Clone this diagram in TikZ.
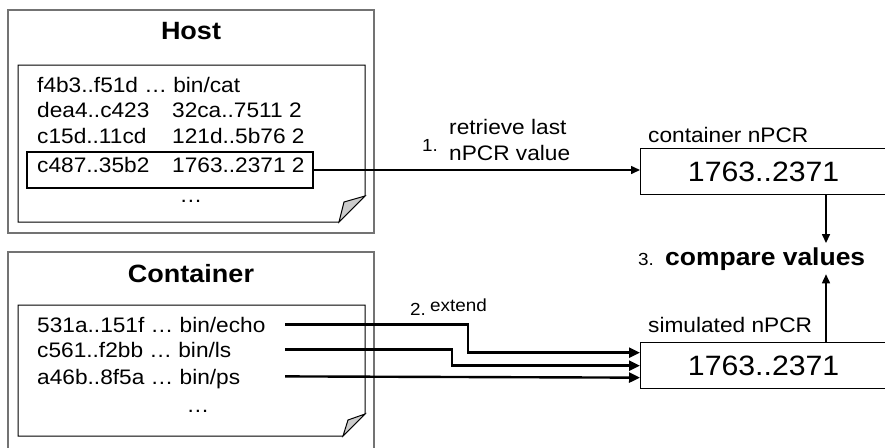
\documentclass[tikz,border=0pt]{standalone}
\usepackage{fontspec}
\setmainfont[FakeStretch=1.08]{Liberation Sans}
\usetikzlibrary{arrows.meta}

\newcommand{\twocol}[2]{\makebox[135pt][l]{#1}#2}

\begin{document}
\begin{tikzpicture}[x=1pt, y=-1pt,
    outer box/.style={draw=black!55, line width=1.3pt, minimum width=366pt, inner sep=0pt},
    box title/.style={inner sep=0pt, font=\fontsize{25}{30}\selectfont\bfseries},
    row/.style={anchor=base west, inner sep=0pt, text depth=0pt, font=\fontsize{21}{26}\selectfont},
    lbl/.style={inner sep=0pt, font=\fontsize{21}{26}\selectfont},
    num/.style={inner sep=0pt, font=\fontsize{17.5}{21}\selectfont},
    val box/.style={draw, line width=1.3pt, minimum width=246pt, minimum height=46pt, inner sep=0pt, font=\fontsize{28}{32}\selectfont},
    page/.style={draw, line width=1pt, line join=miter},
    fold/.style={draw, fill=black!20, line width=1pt, line join=miter},
    arr/.style={-{Triangle[length=9pt,width=8pt]}, line width=1.5pt},
    ext arr/.style={-{Triangle[length=11pt,width=10pt]}, line width=2.4pt},
  ]
  \useasboundingbox (0,0) rectangle (885,447);
  \clip (0,0) rectangle (885,447);

  % host side
  \node[outer box, minimum height=223pt] (host) at (191,121.5) {};
  \node[box title] (hosttitle) at (191,31) {Host};
  \draw[page] (18,65) -- (365,65) -- (365,196) -- (339,222) -- (18,222) -- cycle;
  \draw[fold] (339,222) -- (365,196) -- (344,202) -- cycle;

  \node[row] (hrow1) at (37,92) {f4b3..f51d … bin/cat};
  \node[row] (hrow2) at (37,117) {\twocol{dea4..c423}{32ca..7511 2}};
  \node[row] (hrow3) at (37,143) {\twocol{c15d..11cd}{121d..5b76 2}};
  \node[row] (hrow4) at (37,172) {\twocol{c487..35b2}{1763..2371 2}};
  \node[row, anchor=base] (hrow5) at (191,202) {…};
  \node[draw, line width=1.2pt, minimum width=286pt, minimum height=36pt, inner sep=0pt] (hsel) at (170,170) {};

  % container side
  \node[outer box, minimum height=200pt] (cont) at (191,352) {};
  \node[box title] (conttitle) at (191,274) {Container};
  \draw[page] (18,305) -- (365,305) -- (365,414) -- (343,436) -- (18,436) -- cycle;
  \draw[fold] (343,436) -- (365,414) -- (348,420) -- cycle;

  \node[row] (crow1) at (37,332) {531a..151f … bin/echo};
  \node[row] (crow2) at (37,357) {c561..f2bb … bin/ls};
  \node[row] (crow3) at (37,384) {a46b..8f5a … bin/ps};
  \node[row, anchor=base] (crow4) at (198,412) {…};

  % nPCR values
  \node[val box, anchor=north west] (cval) at (640,148) {1763..2371};
  \node[lbl, anchor=base west] (cname) at (648,142) {container nPCR};
  \node[val box, anchor=north west] (sval) at (640,342) {1763..2371};
  \node[lbl, anchor=base west] (sname) at (648,332) {simulated nPCR};

  \node[num, anchor=base west] (n3) at (638,265) {3.};
  \node[anchor=base west, inner xsep=0pt, inner ysep=4pt, font=\fontsize{24.5}{29}\selectfont\bfseries] (cmp) at (665,265) {compare values};

  \node[num, anchor=base west] (n1) at (422,151) {1.};
  \node[lbl, anchor=west, align=left] (retr) at (449,140) {retrieve last\\nPCR value};
  \node[num, anchor=base west] (n2) at (410,315) {2.};
  \node[num, anchor=base west] (ext) at (430,311) {extend};

  \coordinate (cx) at (826,0);
  \coordinate (xs) at (285,0);
  \coordinate (k1) at (468,0);
  \coordinate (k2) at (452,0);

  \draw[arr] (hsel.east) -- (hsel.east -| cval.west);
  \draw[arr] (cval.south -| cx) -- (cmp.north -| cx);
  \draw[arr] (sval.north -| cx) -- (cmp.south -| cx);

  \draw[ext arr] (crow1.center -| xs) -- (crow1.center -| k1) |- ([yshift=13pt]sval.west);
  \draw[ext arr] (crow2.center -| xs) -- (crow2.center -| k2) |- (sval.west);
  \draw[ext arr] (crow3.center -| xs) -- ([yshift=-12pt]sval.west);
\end{tikzpicture}
\end{document}
